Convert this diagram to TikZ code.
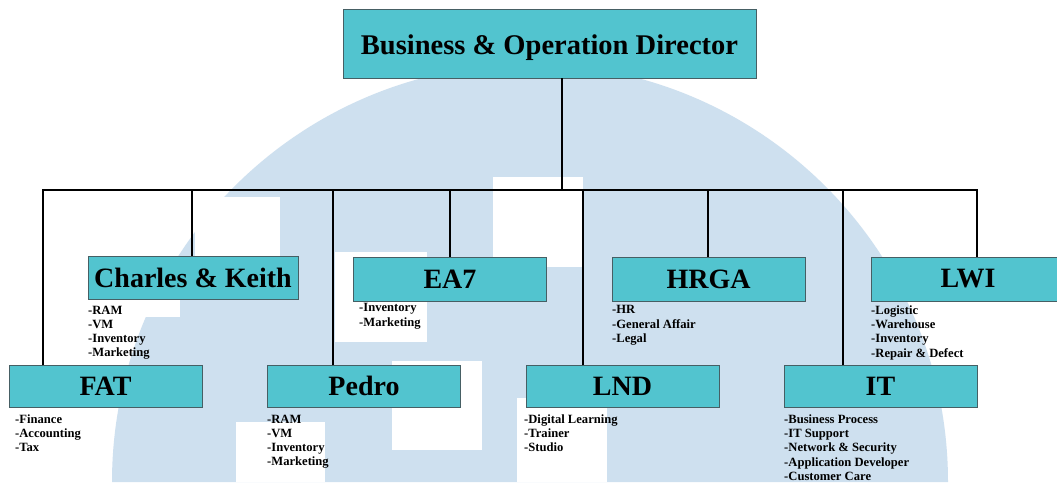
\documentclass[tikz,border=0pt]{standalone}
\usepackage{fontspec}
\setmainfont{Liberation Serif}
\definecolor{wm}{RGB}{206,224,239}
\definecolor{boxfill}{RGB}{82,196,207}
\definecolor{boxline}{RGB}{70,95,100}
\tikzset{
  orgbox/.style={draw=boxline, fill=boxfill, line width=0.8pt, inner sep=0pt,
    minimum width=193pt, minimum height=43pt,
    font=\fontsize{28}{30}\selectfont\bfseries},
  duties/.style={anchor=north west, align=left, inner sep=0pt,
    font=\fontsize{12.6}{14.2}\selectfont\bfseries},
  link/.style={draw=black, line width=1.6pt}
}
\begin{document}
\begin{tikzpicture}[x=1pt,y=-1pt]
\useasboundingbox (0,0) rectangle (1057,482);
\clip (0,0) rectangle (1057,482);
\fill[white] (0,0) rectangle (1057,482);
% watermark
\fill[wm] (112,482) arc (180:360:418) -- cycle;
\fill[white] (195,197) rectangle (280,257);
\fill[white] (100,260) rectangle (180,317);
\fill[white] (493,177) rectangle (583,267);
\fill[white] (335,252) rectangle (427,342);
\fill[white] (392,361) rectangle (482,450);
\fill[white] (236,422) rectangle (325,482);
\fill[white] (517,398) rectangle (607,482);
% boxes
\node[orgbox, minimum width=413pt, minimum height=69pt, font=\fontsize{28.5}{30}\selectfont\bfseries] (dir) at (549.5,43.5) {\raisebox{-11pt}[0pt][0pt]{Business \& Operation Director}};
\node[orgbox, minimum width=210pt] (ck) at (193,277.5) {Charles \& Keith};
\node[orgbox, minimum height=44pt] (ea) at (450,279) {EA7};
\node[orgbox, minimum height=44pt] (hr) at (708.5,279) {HRGA};
\node[orgbox, minimum height=44pt] (lwi) at (968,279) {LWI};
\node[orgbox, minimum height=42pt] (fat) at (105.5,386) {FAT};
\node[orgbox, minimum height=42pt] (pd) at (364,386) {Pedro};
\node[orgbox, minimum height=42pt] (lnd) at (622.5,386) {LND};
\node[orgbox, minimum height=42pt] (it) at (880.5,386) {IT};
% connectors
\coordinate (bus) at (562,190);
\coordinate (busL) at (43,190);
\coordinate (busR) at (977,190);
\coordinate (jck) at (192,190);
\coordinate (jpd) at (333,190);
\coordinate (jea) at (450,190);
\coordinate (jlnd) at (583,190);
\coordinate (jhr) at (708,190);
\coordinate (jit) at (843,190);
\draw[link] (dir.south -| bus) -- (bus);
\draw[link] (fat.north -| busL) -- (busL) -- (busR) -- (lwi.north -| busR);
\draw[link] (jck) -- (ck.north -| jck);
\draw[link] (jpd) -- (pd.north -| jpd);
\draw[link] (jea) -- (ea.north -| jea);
\draw[link] (jlnd) -- (lnd.north -| jlnd);
\draw[link] (jhr) -- (hr.north -| jhr);
\draw[link] (jit) -- (it.north -| jit);
% duty lists
\node[duties] (ckl) at (88,305.5) {-RAM\\-VM\\-Inventory\\-Marketing};
\node[duties] (eal) at (359,303.5) {-Inventory\\-Marketing};
\node[duties] (hrl) at (612,305.5) {-HR\\-General Affair\\-Legal};
\node[duties] (lwil) at (871,305.5) {-Logistic\\-Warehouse\\-Inventory\\-Repair \& Defect};
\node[duties] (fatl) at (15,414.5) {-Finance\\-Accounting\\-Tax};
\node[duties] (pdl) at (267,414.5) {-RAM\\-VM\\-Inventory\\-Marketing};
\node[duties] (lndl) at (524,414.5) {-Digital Learning\\-Trainer\\-Studio};
\node[duties] (itl) at (784,414.5) {-Business Process\\-IT Support\\-Network \& Security\\-Application Developer\\-Customer Care};
\end{tikzpicture}
\end{document}
